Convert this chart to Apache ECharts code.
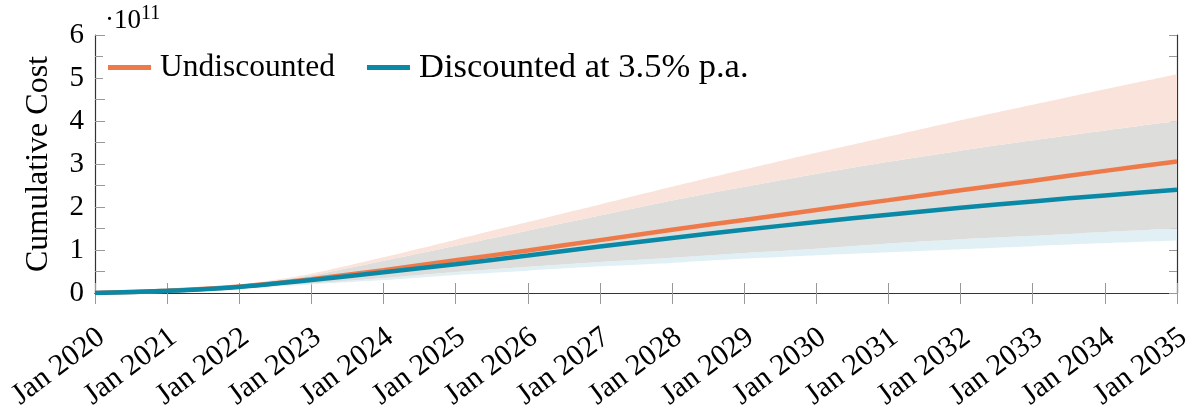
<!DOCTYPE html>
<html>
<head>
<meta charset="utf-8">
<script src="https://cdn.jsdelivr.net/npm/echarts@6/dist/echarts.min.js"></script>
<style>html,body{margin:0;padding:0;background:#fff;}#c{width:1196px;height:417px;}</style>
</head>
<body>
<div id="c"></div>
<script>
const categories = ['Jan 2020','Jan 2021','Jan 2022','Jan 2023','Jan 2024','Jan 2025','Jan 2026','Jan 2027','Jan 2028','Jan 2029','Jan 2030','Jan 2031','Jan 2032','Jan 2033','Jan 2034','Jan 2035'];
// values in units of 1e11
const undiscounted = [0,0.05,0.15,0.32,0.53,0.76,0.99,1.23,1.47,1.70,1.93,2.16,2.39,2.61,2.84,3.06];
const discounted   = [0,0.05,0.14,0.30,0.48,0.67,0.87,1.08,1.28,1.47,1.65,1.82,1.98,2.13,2.27,2.40];
const undiscUpper  = [0,0.06,0.19,0.45,0.83,1.24,1.65,2.06,2.47,2.87,3.26,3.64,4.02,4.38,4.74,5.09];
const undiscLower  = [0,0.04,0.12,0.22,0.35,0.49,0.61,0.72,0.82,0.93,1.03,1.15,1.25,1.33,1.42,1.50];
const discUpper    = [0,0.06,0.18,0.41,0.75,1.10,1.45,1.80,2.15,2.47,2.77,3.05,3.31,3.55,3.78,4.00];
const discLower    = [0,0.04,0.11,0.20,0.30,0.42,0.52,0.62,0.70,0.80,0.88,0.95,1.02,1.09,1.16,1.22];
const yTicks = [0,1,2,3,4,5,6];

const ORANGE = '#EE7A4A', TEAL = '#0A89A6';
const PINK = '#FAE3DB', LIGHTBLUE = '#E1F0F4', GRAY = '#DDDDDB';
const FONT = 'Liberation Serif';

const diff = (a, b) => a.map((v, i) => +(v - b[i]).toFixed(4));

const chart = echarts.init(document.getElementById('c'), null, {renderer: 'canvas'});
const bandBase = {type: 'line', stack: 'band', symbol: 'none', smooth: 0.25, lineStyle: {width: 0, opacity: 0}, silent: true};
chart.setOption({
  animation: false,
  textStyle: {fontFamily: FONT, color: '#000'},
  title: {
    text: '·10{s|11}', left: 100, top: -1,
    textStyle: {fontFamily: FONT, fontSize: 27, fontWeight: 'normal', color: '#000',
      rich: {s: {fontFamily: FONT, fontSize: 20, verticalAlign: 'top', padding: [0,0,14,0], color: '#000'}}}
  },
  legend: {
    data: ['Undiscounted', 'Discounted at 3.5% p.a.'],
    left: 103, top: 45, itemWidth: 43, itemHeight: 5, itemGap: 32,
    icon: 'rect',
    formatter: name => name === 'Undiscounted' ? '{a|' + name + '}' : '{b|' + name + '}',
    textStyle: {fontFamily: FONT, fontSize: 31, color: '#000', padding: [0,0,0,4],
      rich: {a: {fontFamily: FONT, fontSize: 31.5, color: '#000'}, b: {fontFamily: FONT, fontSize: 34.5, color: '#000'}}},
    backgroundColor: '#fff'
  },
  grid: {left: 95, right: 19, top: 35, bottom: 124, containLabel: false},
  xAxis: [{
    type: 'category', data: categories, boundaryGap: false,
    axisLine: {lineStyle: {color: '#333', width: 1.2}},
    axisTick: {inside: false, length: 11, lineStyle: {color: '#999'}},
    axisLabel: {rotate: 37, margin: 46, padding: [0, -8, 0, 0], fontFamily: FONT, fontSize: 30, color: '#000'},
    splitLine: {show: false}
  }, {
    type: 'category', data: categories, boundaryGap: false, position: 'top',
    axisLine: {lineStyle: {color: '#333', width: 1.2}},
    axisTick: {inside: false, length: 10, lineStyle: {color: '#999'}},
    axisLabel: {show: false}, splitLine: {show: false}
  }],
  yAxis: [{
    type: 'value', min: yTicks[0], max: yTicks[yTicks.length-1], interval: 1,
    name: 'Cumulative Cost', nameLocation: 'middle', nameGap: 40,
    nameTextStyle: {fontFamily: FONT, fontSize: 32, color: '#000'},
    axisLine: {show: true, lineStyle: {color: '#333', width: 1.2}},
    axisTick: {show: true, inside: true, length: 10, lineStyle: {color: '#999'}},
    minorTick: {show: true, splitNumber: 2, length: 10, lineStyle: {color: '#999'}},
    axisLabel: {margin: 11, fontFamily: FONT, fontSize: 29, color: '#000'},
    splitLine: {show: false}
  }, {
    type: 'value', min: yTicks[0], max: yTicks[yTicks.length-1], interval: 1, position: 'right',
    axisLine: {show: true, lineStyle: {color: '#333', width: 1.2}},
    axisTick: {show: true, inside: true, length: 8, lineStyle: {color: '#999'}},
    minorTick: {show: true, splitNumber: 2, length: 8, lineStyle: {color: '#999'}},
    axisLabel: {show: false}, splitLine: {show: false}
  }],
  series: [
    Object.assign({}, bandBase, {name: 'base', data: discLower, areaStyle: {opacity: 0}}),
    Object.assign({}, bandBase, {name: 'bBand', data: diff(undiscLower, discLower), areaStyle: {color: LIGHTBLUE, opacity: 1}}),
    Object.assign({}, bandBase, {name: 'overlap', data: diff(discUpper, undiscLower), areaStyle: {color: GRAY, opacity: 1}}),
    Object.assign({}, bandBase, {name: 'oBand', data: diff(undiscUpper, discUpper), areaStyle: {color: PINK, opacity: 1}}),
    {name: 'Undiscounted', type: 'line', data: undiscounted, symbol: 'none', smooth: 0.25, color: ORANGE,
     lineStyle: {color: ORANGE, width: 4.5}, z: 5},
    {name: 'Discounted at 3.5% p.a.', type: 'line', data: discounted, symbol: 'none', smooth: 0.25, color: TEAL,
     lineStyle: {color: TEAL, width: 4.5}, z: 6}
  ]
});
</script>
</body>
</html>
